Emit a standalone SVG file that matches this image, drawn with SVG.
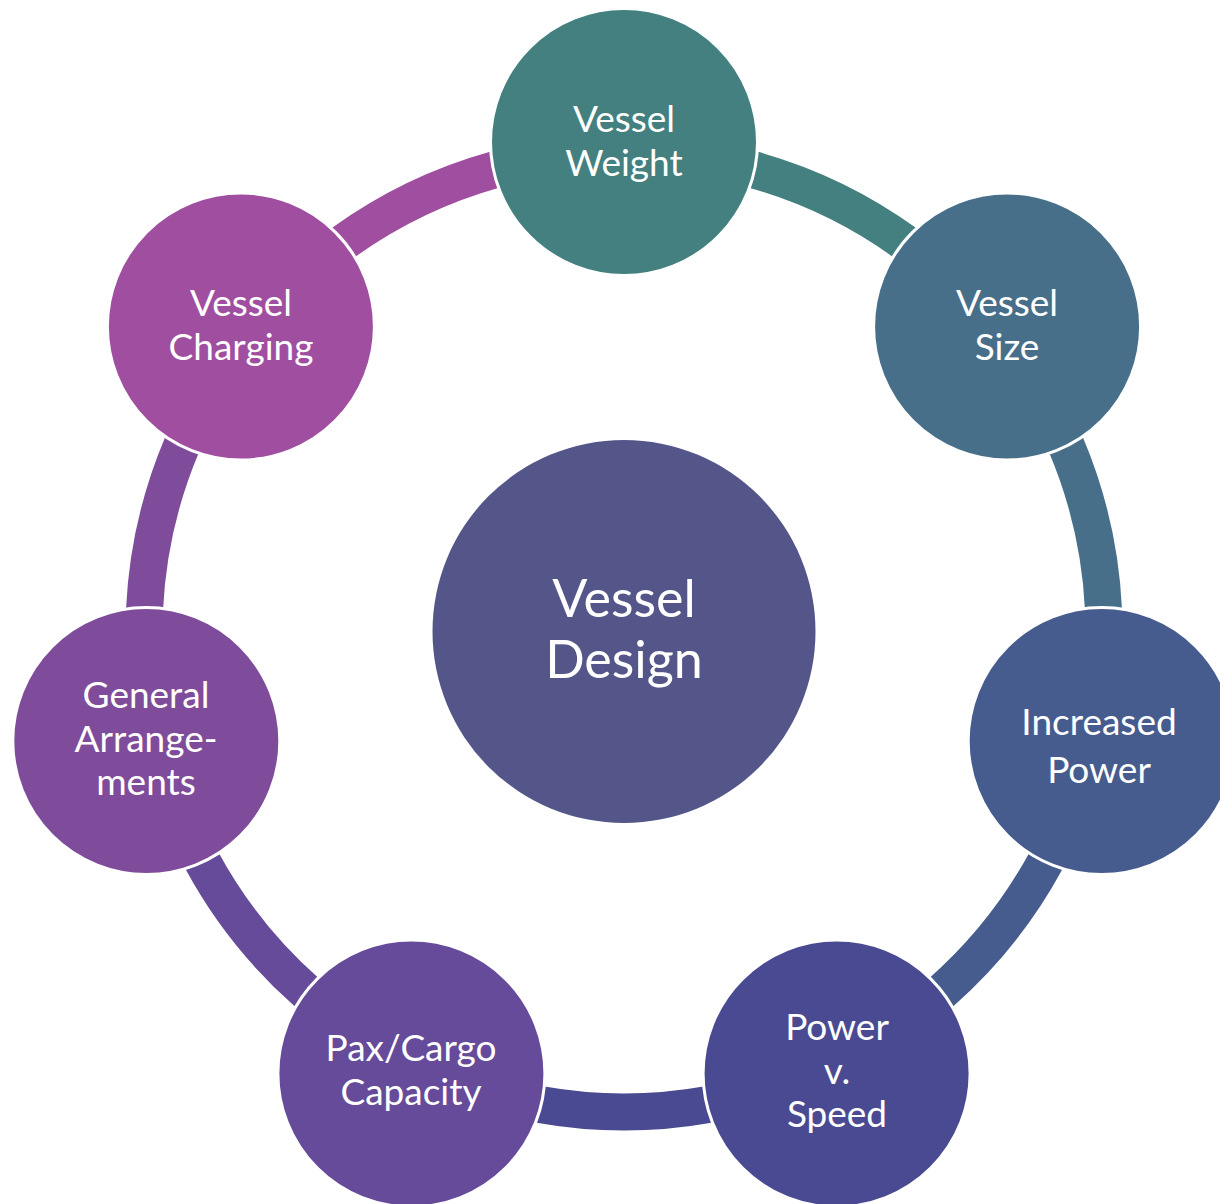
<svg xmlns="http://www.w3.org/2000/svg" width="1220" height="1204" viewBox="0 0 1220 1204">
<style>
.arc{fill:none;stroke-width:37;stroke-linecap:butt}
.node{stroke:#ffffff;stroke-width:3}
.lbl{font-family:Lato,"Liberation Sans",sans-serif;font-size:37px;fill:#ffffff;text-anchor:middle}
.big{font-family:Lato,"Liberation Sans",sans-serif;font-size:52px;fill:#ffffff;text-anchor:middle}
</style>
<rect width="1220" height="1204" fill="#ffffff"/>
<g id="connectors">
<path class="arc" stroke="#43807F" d="M753.08 169.68 A480 480 0 0 1 905.02 242.87"/>
<path class="arc" stroke="#476F8A" d="M1065.94 444.67 A480 480 0 0 1 1103.45 609.06"/>
<path class="arc" stroke="#475C8E" d="M1045.99 860.73 A480 480 0 0 1 940.86 992.55"/>
<path class="arc" stroke="#4A4A92" d="M708.25 1104.55 A480 480 0 0 1 539.75 1104.55"/>
<path class="arc" stroke="#654B9A" d="M307.14 992.55 A480 480 0 0 1 202.01 860.73"/>
<path class="arc" stroke="#7F4C9B" d="M144.55 609.06 A480 480 0 0 1 182.06 444.67"/>
<path class="arc" stroke="#A04EA0" d="M342.98 242.87 A480 480 0 0 1 494.92 169.68"/>
</g>
<g id="center">
<circle cx="624" cy="631.5" r="191.5" fill="#54568A"/>
<text class="big" x="624" y="617">Vessel</text>
<text class="big" x="624" y="678">Design</text>
</g>
<g id="vessel-weight">
<circle class="node" cx="624" cy="142" r="133.5" fill="#43807F"/>
<text class="lbl" x="624" y="132">Vessel</text>
<text class="lbl" x="624" y="176">Weight</text>
</g>
<g id="vessel-size">
<circle class="node" cx="1007.1" cy="326.5" r="133.5" fill="#476F8A"/>
<text class="lbl" x="1007" y="316">Vessel</text>
<text class="lbl" x="1007" y="360">Size</text>
</g>
<g id="increased-power">
<circle class="node" cx="1101.7" cy="741" r="133.5" fill="#475C8E"/>
<text class="lbl" x="1099" y="735">Increased</text>
<text class="lbl" x="1099" y="783">Power</text>
</g>
<g id="power-speed">
<circle class="node" cx="836.6" cy="1073.5" r="133.5" fill="#4A4A92"/>
<text class="lbl" x="837" y="1040">Power</text>
<text class="lbl" x="837" y="1084">v.</text>
<text class="lbl" x="837" y="1127">Speed</text>
</g>
<g id="pax-cargo">
<circle class="node" cx="411.4" cy="1073.5" r="133.5" fill="#654B9A"/>
<text class="lbl" x="411" y="1061">Pax/Cargo</text>
<text class="lbl" x="411" y="1105">Capacity</text>
</g>
<g id="general-arrangements">
<circle class="node" cx="146.3" cy="741" r="133.5" fill="#7F4C9B"/>
<text class="lbl" x="146" y="708">General</text>
<text class="lbl" x="146" y="752">Arrange-</text>
<text class="lbl" x="146" y="795">ments</text>
</g>
<g id="vessel-charging">
<circle class="node" cx="240.9" cy="326.5" r="133.5" fill="#A04EA0"/>
<text class="lbl" x="241" y="316">Vessel</text>
<text class="lbl" x="241" y="360">Charging</text>
</g>
</svg>
